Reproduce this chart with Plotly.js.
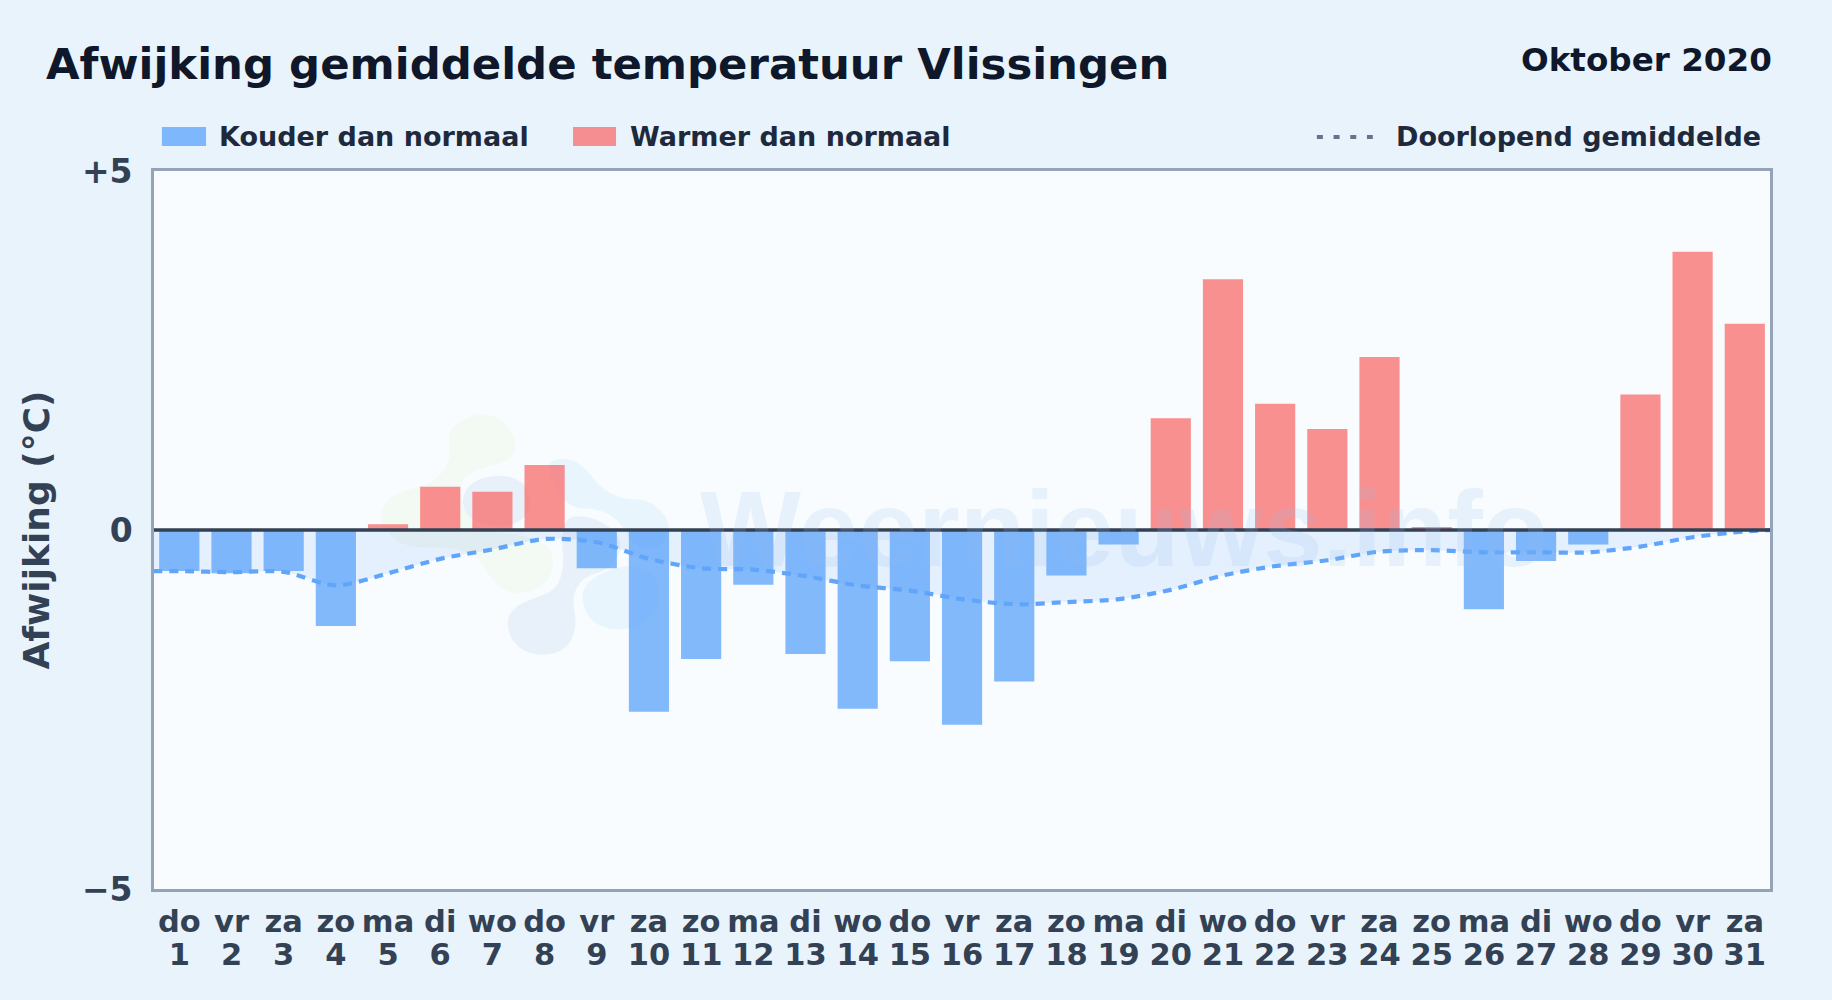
<!DOCTYPE html>
<html><head><meta charset="utf-8">
<script src="https://cdn.plot.ly/plotly-3.0.1.min.js"></script>
<style>html,body{margin:0;padding:0;background:#e8f3fc;}</style></head>
<body><div id="chart" style="width:1832px;height:1000px"></div>
<script>
const weekdays = ["do","vr","za","zo","ma","di","wo","do","vr","za","zo","ma","di","wo","do","vr","za","zo","ma","di","wo","do","vr","za","zo","ma","di","wo","do","vr","za"];
const days = [1,2,3,4,5,6,7,8,9,10,11,12,13,14,15,16,17,18,19,20,21,22,23,24,25,26,27,28,29,30,31];
const deviation = [-0.57,-0.6,-0.57,-1.33,0.08,0.6,0.53,0.9,-0.53,-2.52,-1.79,-0.76,-1.72,-2.48,-1.82,-2.7,-2.1,-0.63,-0.2,1.55,3.48,1.75,1.4,2.4,0.04,-1.1,-0.43,-0.2,1.88,3.86,2.86];
const meanX = [0.5,1,2,3,4,5,6,7,8,9,10,11,12,13,14,15,16,17,18,19,20,21,22,23,24,25,26,27,28,29,30,31,31.5];
const meanY = [-0.57,-0.57,-0.585,-0.58,-0.77,-0.6,-0.4,-0.27,-0.125,-0.17,-0.4,-0.53,-0.55,-0.64,-0.77,-0.84,-0.96,-1.03,-1.0,-0.96,-0.83,-0.63,-0.5,-0.42,-0.3,-0.28,-0.31,-0.31,-0.31,-0.23,-0.1,-0.02,0];
const coldDays = days.filter((d,i)=>deviation[i]<0), coldVals = deviation.filter(v=>v<0);
const warmDays = days.filter((d,i)=>deviation[i]>=0), warmVals = deviation.filter(v=>v>=0);
const F = "DejaVu Sans";
const W=1832,H=1000,L=154,R=1770.2,T=171,B=889;
const px = x=>((x-L)/(R-L)).toFixed(4), py = y=>((B-y)/(B-T)).toFixed(4);
// watermark logo outlines, in zoomed-crop units
const logoGreen=[[235,85],[320,38],[400,55],[445,130],[420,185],[330,205],[265,240],[285,340],[340,395],[470,405],[540,440],[555,500],[520,565],[430,585],[370,550],[330,470],[240,440],[110,445],[40,390],[30,330],[70,280],[190,250],[240,190],[240,130]];
const logoGrey1=[[275,290],[310,240],[400,222],[470,250],[490,330],[420,385],[320,370],[285,340]];
const logoGrey2=[[585,350],[660,348],[730,385],[760,440],[720,510],[640,530],[605,590],[622,680],[590,750],[515,770],[440,745],[408,680],[425,625],[490,595],[560,570],[582,500],[575,430]];
const logoBlue1=[[520,190],[590,170],[650,205],[690,265],[760,298],[830,298],[890,345],[900,400],[860,450],[790,440],[750,360],[680,325],[590,325]];
const logoBlue2=[[630,590],[660,535],[770,490],[860,520],[870,620],[810,680],[730,692],[660,665]];
function blob(pts,color){
 const P=pts.map(p=>[370+p[0]/3,400+p[1]/3]);
 const mid=(a,b)=>[(a[0]+b[0])/2,(a[1]+b[1])/2];
 const f=p=>px(p[0])+" "+py(p[1]);
 let d="M"+f(mid(P[P.length-1],P[0]));
 P.forEach((p,i)=>{d+=" Q"+f(p)+" "+f(mid(p,P[(i+1)%P.length]));});
 return {type:"path",xref:"paper",yref:"paper",path:d+" Z",layer:"below",fillcolor:color,line:{width:0}};
}
const traces = [
 {type:"bar",name:"Kouder dan normaal",x:coldDays,y:coldVals,width:0.77,marker:{color:"rgba(96,165,250,0.78)"},showlegend:false},
 {type:"bar",name:"Warmer dan normaal",x:warmDays,y:warmVals,width:0.77,marker:{color:"rgba(248,113,113,0.78)"},showlegend:false},
 {type:"scatter",mode:"lines",name:"Doorlopend gemiddelde",xaxis:"x2",x:meanX,y:meanY,fill:"tozeroy",fillcolor:"rgba(96,165,250,0.13)",line:{color:"#60a5fa",width:4.2,dash:"9px,7px",shape:"spline",smoothing:0.8},showlegend:false}
];
const ann=(x,y,text,size,anchor,color)=>({xref:"paper",yref:"paper",x:px(x),y:py(y),text,showarrow:false,xanchor:anchor,yanchor:"middle",font:{family:F,size,color,weight:700}});
const xBase={range:[0.515,31.483],tickmode:"array",tickvals:days,ticks:"",showgrid:false,zeroline:false,showline:true,mirror:true,linecolor:"#94a3b8",linewidth:2.8,tickangle:0,tickfont:{family:F,size:30.5,color:"#334155",weight:700}};
const layout = {
 width:W,height:H,autosize:false,paper_bgcolor:"#e8f3fc",plot_bgcolor:"#f8fcff",
 margin:{l:L,r:W-R,t:T,b:H-B,pad:0},barmode:"overlay",font:{family:F},showlegend:false,
 xaxis:Object.assign({},xBase,{ticktext:weekdays,ticklabelstandoff:4}),
 xaxis2:Object.assign({},xBase,{overlaying:"x",side:"bottom",anchor:"y",ticktext:days.map(String),ticklabelstandoff:37}),
 yaxis:{range:[-4.98,4.98],tickmode:"array",tickvals:[-4.98,0,4.98],ticktext:["−5","0","+5"],ticks:"",ticklabelstandoff:12,showgrid:false,zeroline:false,showline:true,mirror:true,linecolor:"#94a3b8",linewidth:2.8,tickfont:{family:F,size:33,color:"#334155",weight:700},title:{text:"Afwijking (°C)",standoff:22,font:{family:F,size:36,color:"#334155",weight:700}}},
 shapes:[
  blob(logoGreen,"#f3f9f3"),blob(logoBlue1,"#e9f5fd"),blob(logoBlue2,"#e9f5fd"),blob(logoGrey1,"#e8f1f9"),blob(logoGrey2,"#e8f1f9"),
  {type:"line",xref:"paper",yref:"y",x0:0,x1:1,y0:0,y1:0,layer:"above",line:{color:"#334155",width:3.6}},
  {type:"rect",xref:"paper",yref:"paper",x0:px(162),x1:px(206),y0:py(127),y1:py(146),layer:"below",fillcolor:"rgba(96,165,250,0.78)",line:{width:0}},
  {type:"rect",xref:"paper",yref:"paper",x0:px(573),x1:px(616),y0:py(127),y1:py(146),layer:"below",fillcolor:"rgba(248,113,113,0.78)",line:{width:0}},
  {type:"line",xref:"paper",yref:"paper",x0:px(1317),x1:px(1373),y0:py(137),y1:py(137),layer:"below",line:{color:"#64748b",width:4,dash:"6px,10.7px"}}
 ],
 annotations:[
  ann(44,64,"Afwijking gemiddelde temperatuur Vlissingen",43.4,"left","#0f172a"),
  ann(1774,60,"Oktober 2020",32.6,"right","#0f172a"),
  ann(217,137,"Kouder dan normaal",27,"left","#1e293b"),
  ann(628,137,"Warmer dan normaal",27,"left","#1e293b"),
  ann(1763,137,"Doorlopend gemiddelde",27,"right","#1e293b"),
  {xref:"paper",yref:"paper",x:px(1124),y:py(529),text:"Weernieuws.info",showarrow:false,xanchor:"center",yanchor:"middle",font:{family:"Liberation Sans",size:107,color:"rgba(147,190,235,0.17)",weight:700}}
 ]
};
Plotly.newPlot("chart",traces,layout,{displayModeBar:false,staticPlot:true});
</script></body></html>
